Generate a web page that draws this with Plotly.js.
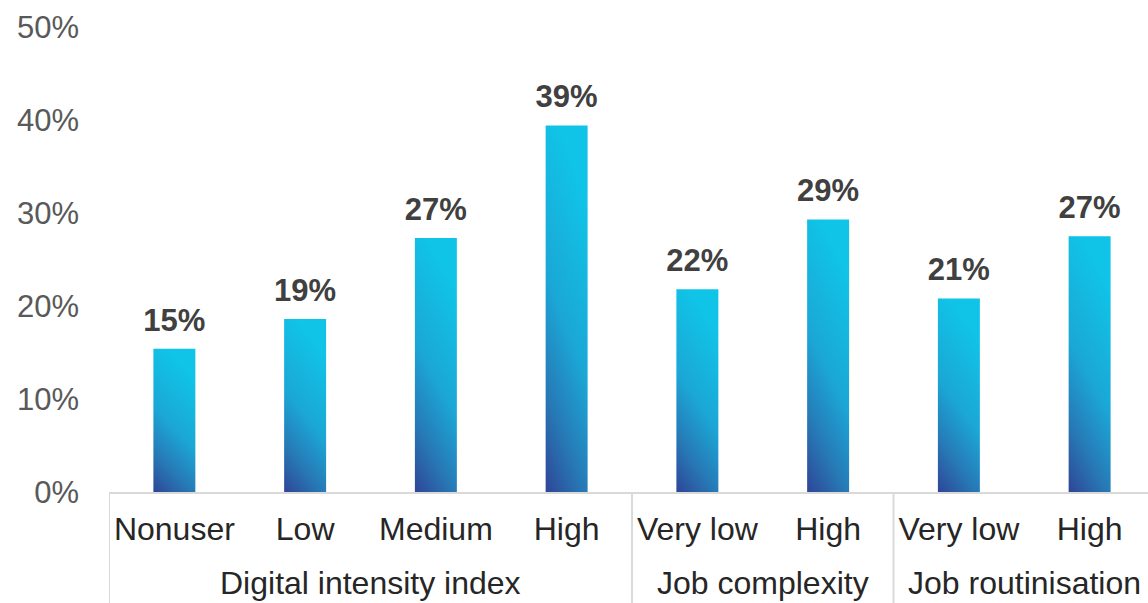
<!DOCTYPE html>
<html>
<head>
<meta charset="utf-8">
<script src="https://cdn.plot.ly/plotly-3.0.1.min.js"></script>
<style>
  html, body { margin: 0; padding: 0; background: #ffffff; overflow: hidden; }
  #wrap { width: 1148px; height: 603px; overflow: hidden; }
  #chart { width: 1155px; height: 603px; }
</style>
</head>
<body>
<div id="wrap"><div id="chart"></div></div>
<script>
// ---- data ----
const groups = ["Digital intensity index", "Digital intensity index", "Digital intensity index", "Digital intensity index",
                "Job complexity", "Job complexity",
                "Job routinisation", "Job routinisation"];
const categories = ["Nonuser", "Low", "Medium", "High", "Very low", "High", "Very low", "High"];
const values = [15.4, 18.6, 27.3, 39.4, 21.8, 29.3, 20.8, 27.5];
const labels = ["15%", "19%", "27%", "39%", "22%", "29%", "21%", "27%"];
const yTickVals = [0, 10, 20, 30, 40, 50];
const yTickText = ["0%", "10%", "20%", "30%", "40%", "50%"];

const FONT = "Liberation Sans, Arial, sans-serif";
const positions = categories.map(function (_, i) { return i; });

// group spans derived from the groups list
const groupSpans = [];
groups.forEach(function (g, i) {
  const last = groupSpans[groupSpans.length - 1];
  if (last && last.name === g) { last.end = i; }
  else { groupSpans.push({ name: g, start: i, end: i }); }
});

const barTrace = {
  type: "bar",
  x: positions,
  y: values,
  marker: { color: "#1fa0d0", line: { width: 0 } },
  hoverinfo: "skip",
  cliponaxis: false
};

const labelTrace = {
  type: "scatter",
  mode: "markers+text",
  x: positions,
  y: values,
  text: labels,
  textposition: "top center",
  textfont: { family: FONT, size: 31, color: "#404040", weight: "bold" },
  marker: { size: 15, opacity: 0 },
  hoverinfo: "skip",
  cliponaxis: false
};

const groupAnnotations = groupSpans.map(function (s) {
  return {
    xref: "x", yref: "paper",
    x: (s.start + s.end) / 2, y: 0,
    yanchor: "middle", yshift: -91,
    text: s.name, showarrow: false,
    font: { family: FONT, size: 32, color: "#262626" }
  };
});

const dividerShapes = groupSpans.map(function (s) {
  return {
    type: "line", xref: "x", yref: "paper",
    x0: s.start - 0.5, x1: s.start - 0.5, y0: 0, y1: -0.25,
    line: { color: "#d9d9d9", width: 2 }
  };
});

const layout = {
  width: 1155,
  height: 603,
  margin: { l: 109, r: 0, t: 27, b: 111 },
  paper_bgcolor: "#ffffff",
  plot_bgcolor: "#ffffff",
  showlegend: false,
  bargap: 0.679,
  font: { family: FONT, size: 31, color: "#262626" },
  annotations: groupAnnotations,
  shapes: dividerShapes,
  xaxis: {
    type: "linear",
    range: [-0.5, categories.length - 0.5],
    tickvals: positions,
    ticktext: categories,
    showline: true,
    linecolor: "#d9d9d9",
    linewidth: 2,
    ticks: "",
    showgrid: false,
    zeroline: false,
    ticklabelstandoff: 8,
    tickfont: { family: FONT, size: 32, color: "#262626" }
  },
  yaxis: {
    range: [0, 50],
    tickvals: yTickVals,
    ticktext: yTickText,
    showgrid: false,
    zeroline: false,
    showline: false,
    ticks: "",
    ticklabelstandoff: 29,
    tickfont: { family: FONT, size: 31, color: "#595959" }
  }
};

Plotly.newPlot("chart", [barTrace, labelTrace], layout, { staticPlot: true, displayModeBar: false }).then(function (gd) {
  const svg = gd.querySelector(".main-svg");
  const NS = "http://www.w3.org/2000/svg";
  let defs = svg.querySelector("defs");
  if (!defs) { defs = document.createElementNS(NS, "defs"); svg.insertBefore(defs, svg.firstChild); }
  const grad = document.createElementNS(NS, "linearGradient");
  grad.setAttribute("id", "barGrad");
  grad.setAttribute("x1", "0.3"); grad.setAttribute("y1", "0");
  grad.setAttribute("x2", "0"); grad.setAttribute("y2", "1");
  [["0", "#10c4e7"], ["0.45", "#1ba7d6"], ["0.75", "#2778b5"], ["1", "#2f4597"]].forEach(function (s) {
    const st = document.createElementNS(NS, "stop");
    st.setAttribute("offset", s[0]);
    st.setAttribute("stop-color", s[1]);
    grad.appendChild(st);
  });
  defs.appendChild(grad);
  gd.querySelectorAll(".bars .point path").forEach(function (p) {
    p.style.fill = "url(#barGrad)";
  });
});
</script>
</body>
</html>
